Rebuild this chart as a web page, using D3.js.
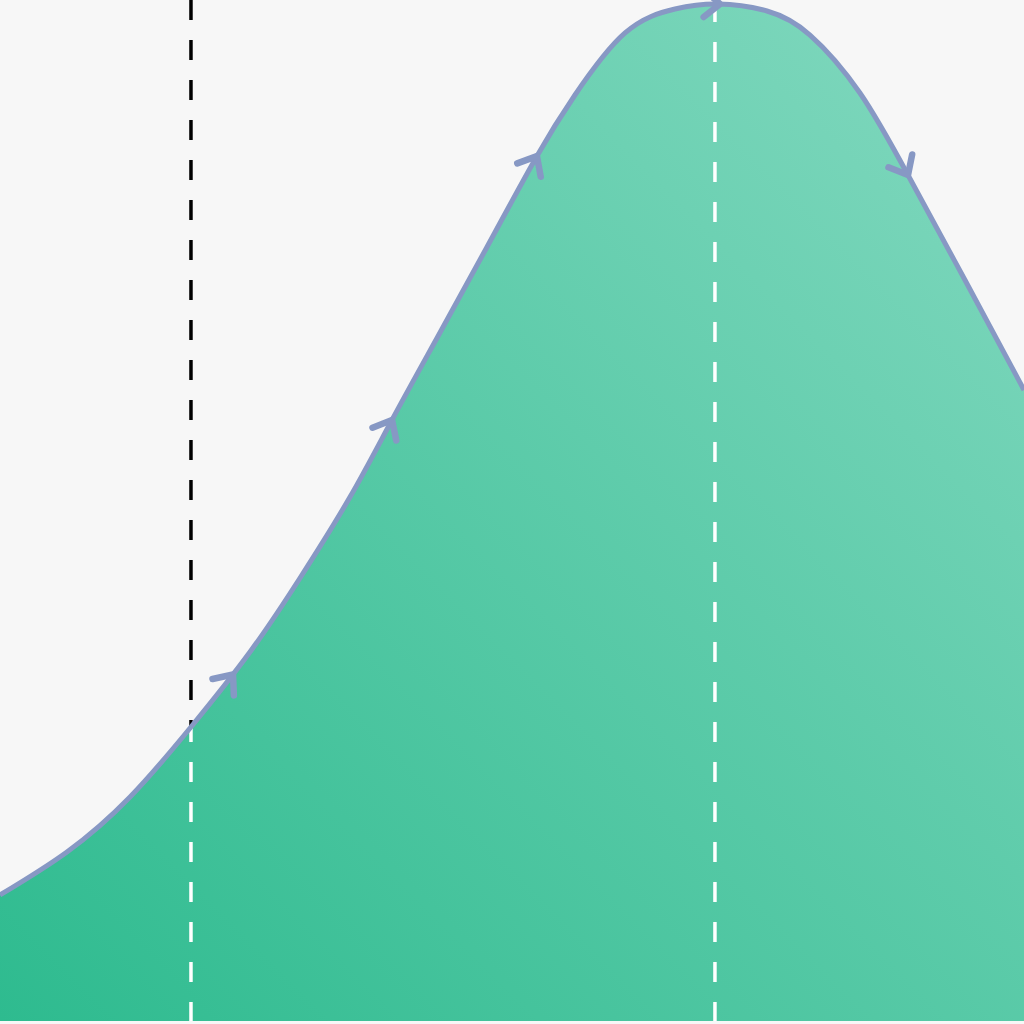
<!DOCTYPE html>
<html><head><meta charset="utf-8">
<script src="https://cdn.jsdelivr.net/npm/d3@7"></script>
<style>html,body{margin:0;padding:0;background:#f7f7f7;overflow:hidden}svg{display:block}</style>
</head><body><svg id="chart" width="1024" height="1024"></svg>
<script>
// Curve data (x in 0..100, density-like value in 0..100)
const xValues = [0, 6.54, 12.70, 18.65, 24.41, 29.30, 34.18, 38.28, 42.68, 47.56, 52.44, 56.15, 61.04, 65.92, 70.12, 74.90, 79.10, 83.98, 88.67, 94.34, 100];
const yValues = [12.39, 16.62, 22.03, 28.91, 36.28, 43.56, 51.52, 59.10, 67.16, 76.11, 85.05, 91.05, 97.15, 99.51, 100, 99.31, 96.95, 91.25, 83.19, 72.66, 62.05];
// Direction arrows placed along the curve (x positions)
const arrowX = [22.75, 38.28, 52.44, 70.31, 88.67];
// Vertical reference lines (x positions)
const refLines = [18.65, 69.82];

const W = 1024, H = 1024;
const svg = d3.select("#chart");
const x = d3.scaleLinear().domain([0, 100]).range([0, 1024]);
const y = d3.scaleLinear().domain([0, 100]).range([1021, 4]);

const data = xValues.map((v, i) => ({x: v, y: yValues[i]}));

svg.append("rect").attr("width", W).attr("height", H).attr("fill", "#f7f7f7");

const defs = svg.append("defs");
const grad = defs.append("linearGradient").attr("id", "fillGrad")
  .attr("gradientUnits", "userSpaceOnUse")
  .attr("x1", x(0)).attr("y1", y(0)).attr("x2", x(100)).attr("y2", 0);
grad.append("stop").attr("offset", "0%").attr("stop-color", "#2ebb8f");
grad.append("stop").attr("offset", "100%").attr("stop-color", "#84d9c0");

const curve = d3.curveNatural;
const area = d3.area().x(d => x(d.x)).y0(y(0)).y1(d => y(d.y)).curve(curve);
const line = d3.line().x(d => x(d.x)).y(d => y(d.y)).curve(curve);

defs.append("clipPath").attr("id", "areaClip")
  .append("path").attr("d", area(data));

// black dashed reference lines (visible above the curve)
svg.selectAll("line.refBlack").data(refLines).join("line")
  .attr("class", "refBlack")
  .attr("x1", d => x(d)).attr("x2", d => x(d))
  .attr("y1", 0).attr("y2", y(0))
  .attr("stroke", "#000").attr("stroke-width", 3.5)
  .attr("stroke-dasharray", "20,20");

// filled area
svg.append("path").attr("d", area(data)).attr("fill", "url(#fillGrad)");

// white dashed reference lines inside the area
svg.append("g").attr("clip-path", "url(#areaClip)")
  .selectAll("line").data(refLines).join("line")
  .attr("x1", d => x(d)).attr("x2", d => x(d))
  .attr("y1", 1022).attr("y2", 0)
  .attr("stroke", "#fff").attr("stroke-width", 3.5)
  .attr("stroke-dasharray", "20,20");

// curve line
const linePath = svg.append("path").attr("d", line(data))
  .attr("fill", "none").attr("stroke", "#8798c4").attr("stroke-width", 5);

// arrows
const node = linePath.node();
const total = node.getTotalLength();
function pointAtX(px) {
  let best = 0, bestD = Infinity;
  for (let l = 0; l <= total; l += 0.5) {
    const p = node.getPointAtLength(l);
    const dd = Math.abs(p.x - px);
    if (dd < bestD) { bestD = dd; best = l; }
  }
  return best;
}
const armLen = 21, half = 40 * Math.PI / 180;
const arrowG = svg.append("g");
arrowX.forEach(ax => {
  const l = pointAtX(x(ax));
  const p = node.getPointAtLength(l);
  const p0 = node.getPointAtLength(Math.max(0, l - 2));
  const p1 = node.getPointAtLength(Math.min(total, l + 2));
  const ang = Math.atan2(p1.y - p0.y, p1.x - p0.x) * 180 / Math.PI;
  const dx = -armLen * Math.cos(half), dy = armLen * Math.sin(half);
  arrowG.append("path")
    .attr("transform", `translate(${p.x},${p.y}) rotate(${ang})`)
    .attr("d", `M${dx},${-dy}L0,0L${dx},${dy}`)
    .attr("fill", "none").attr("stroke", "#8798c4").attr("stroke-width", 6.5)
    .attr("stroke-linecap", "round").attr("stroke-linejoin", "round");
});
</script>
</body></html>
